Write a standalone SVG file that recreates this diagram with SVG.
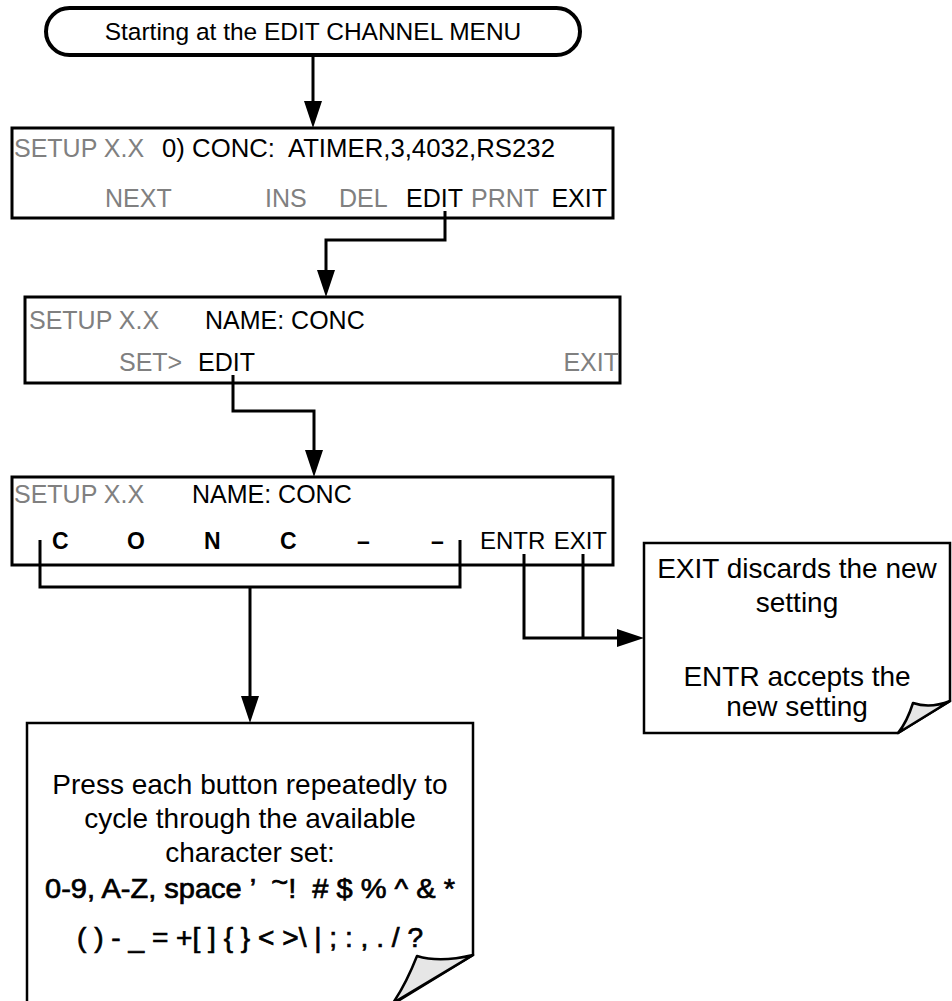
<svg xmlns="http://www.w3.org/2000/svg" width="952" height="1001" viewBox="0 0 952 1001">
<style>
  text { font-family: "Liberation Sans", Arial, sans-serif; }
  .box { fill: #ffffff; stroke: #000000; stroke-width: 3; }
  .term { fill: #ffffff; stroke: #000000; stroke-width: 4; }
  .note { fill: #ffffff; stroke: #000000; stroke-width: 2.5; }
  .curl { fill: #e6e6e6; stroke: #000000; stroke-width: 2.5; stroke-linejoin: round; }
  .t { font-size: 25px; fill: #000000; }
  .g { font-size: 25px; fill: #808080; }
  .ch { font-size: 23px; font-weight: bold; fill: #000000; }
  .n { font-size: 28px; fill: #000000; text-anchor: middle; }
  .nb { font-size: 28px; fill: #000000; stroke: #000000; stroke-width: 0.7; text-anchor: middle; }
  .c { fill: none; stroke: #000000; stroke-width: 3; }
</style>
<defs>
  <marker id="ah" viewBox="0 0 27 18" refX="19" refY="9" markerWidth="27" markerHeight="18" markerUnits="userSpaceOnUse" orient="auto">
    <path d="M0,0 L27,9 L0,18 Z" fill="#000000"/>
  </marker>
</defs>

<g id="start">
  <rect class="term" x="46" y="8" width="534" height="47" rx="23.5" ry="23.5"/>
  <text class="t" x="313" y="40" text-anchor="middle" style="font-size:24.5px">Starting at the EDIT CHANNEL MENU</text>
</g>

<g id="menu1">
  <rect class="box" x="12" y="128" width="601" height="90"/>
  <text class="g" x="14" y="157">SETUP X.X</text>
  <text class="t" x="162" y="157" xml:space="preserve" textLength="393" lengthAdjust="spacingAndGlyphs">0) CONC:  ATIMER,3,4032,RS232</text>
  <text class="g" x="105" y="207">NEXT</text>
  <text class="g" x="265" y="207">INS</text>
  <text class="g" x="339" y="207">DEL</text>
  <text class="t" x="406" y="207">EDIT</text>
  <text class="g" x="471" y="207">PRNT</text>
  <text class="t" x="607" y="207" text-anchor="end">EXIT</text>
</g>

<g id="menu2">
  <rect class="box" x="25" y="297" width="595" height="86"/>
  <text class="g" x="29" y="329">SETUP X.X</text>
  <text class="t" x="205" y="329">NAME: CONC</text>
  <text class="g" x="119" y="371">SET&gt;</text>
  <text class="t" x="198" y="371">EDIT</text>
  <text class="g" x="619" y="371" text-anchor="end">EXIT</text>
</g>

<g id="menu3">
  <rect class="box" x="12" y="477" width="601" height="88"/>
  <text class="g" x="14" y="503">SETUP X.X</text>
  <text class="t" x="192" y="503">NAME: CONC</text>
  <text class="ch" x="52" y="549">C</text>
  <text class="ch" x="127" y="549">O</text>
  <text class="ch" x="204" y="549">N</text>
  <text class="ch" x="280" y="549">C</text>
  <text class="ch" x="357" y="549">–</text>
  <text class="ch" x="431" y="549">–</text>
  <text class="t" x="480" y="549" style="font-size:24px">ENTR</text>
  <text class="t" x="607" y="549" text-anchor="end" style="font-size:24px">EXIT</text>
</g>

<g id="note-exit">
  <path class="note" d="M644,543 H950 V701 L898,733 H644 Z"/>
  <path class="curl" d="M950,701 Q930,709 913,703 Q907,722 898,733 Z"/>
  <text class="n" x="797" y="578">EXIT discards the new</text>
  <text class="n" x="797" y="612">setting</text>
  <text class="n" x="797" y="686">ENTR accepts the</text>
  <text class="n" x="797" y="716">new setting</text>
</g>

<g id="note-charset">
  <path class="note" d="M27,723 H473 V955 L393,1004 H27 Z"/>
  <path class="curl" d="M473,955 Q440,963 417,956 Q406,984 393,1003 Z"/>
  <text class="n" x="250" y="794">Press each button repeatedly to</text>
  <text class="n" x="250" y="828">cycle through the available</text>
  <text class="n" x="250" y="862">character set:</text>
  <text class="nb" x="250" y="898" xml:space="preserve" textLength="410" lengthAdjust="spacingAndGlyphs">0-9, A-Z, space ’  <tspan dy="-6">~</tspan><tspan dy="6">!  # $ % ^ &amp; *</tspan></text>
  <text class="nb" x="250" y="947" textLength="346" lengthAdjust="spacingAndGlyphs">( ) - _ = +[ ] { } &lt; &gt;\ | ; : , . / ?</text>
</g>

<g id="connectors">
  <path class="c" d="M313,55 V120" marker-end="url(#ah)"/>
  <path class="c" d="M445,211 V240 H326 V289" marker-end="url(#ah)"/>
  <path class="c" d="M233,375 V411 H314 V469" marker-end="url(#ah)"/>
  <path class="c" d="M40,540 V587 H460 V540"/>
  <path class="c" d="M250,587 V715" marker-end="url(#ah)"/>
  <path class="c" d="M524,554 V638 H636" marker-end="url(#ah)"/>
  <path class="c" d="M583,554 V638"/>
</g>
</svg>
